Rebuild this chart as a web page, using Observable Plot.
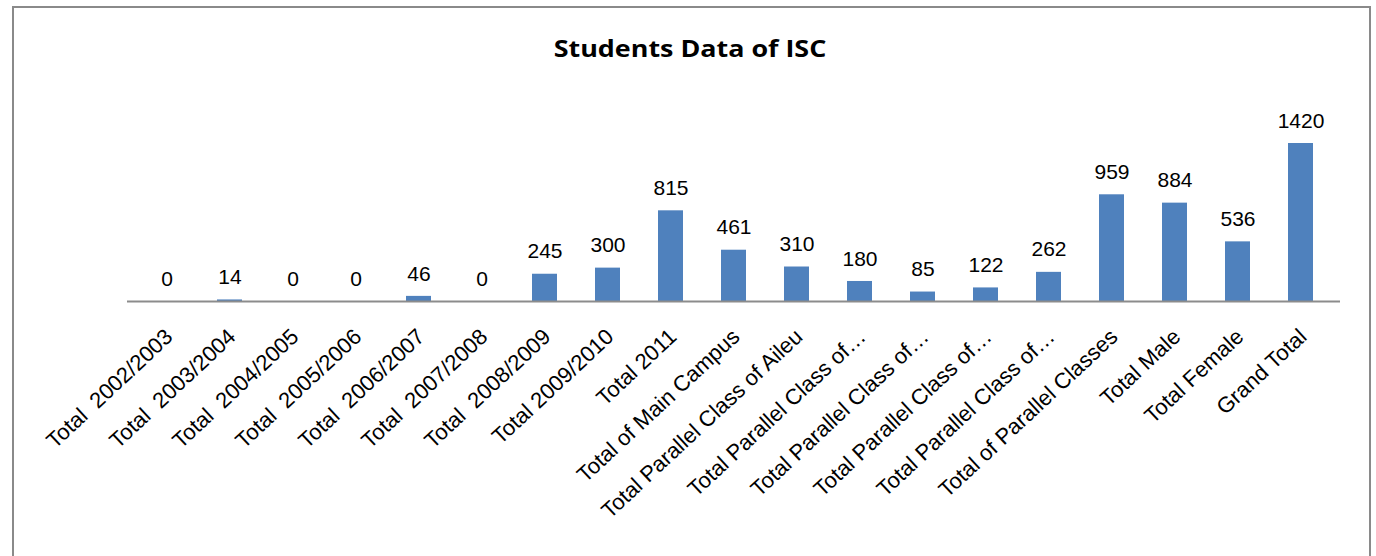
<!DOCTYPE html>
<html>
<head>
<meta charset="utf-8">
<script src="https://cdn.jsdelivr.net/npm/d3@7"></script>
<script src="https://cdn.jsdelivr.net/npm/@observablehq/plot@0.6"></script>
<style>
  html, body { margin: 0; padding: 0; background: #fff; }
  #wrap { position: relative; width: 1376px; height: 556px; overflow: hidden; background: #fff; }
  #frame { position: absolute; left: 12px; top: 6px; width: 1359px; height: 620px; border: 2px solid #8a8a8a; box-sizing: border-box; }
  #title { position: absolute; left: 0; width: 1380px; top: 33px; text-align: center; font-family: "Open Sans", sans-serif; font-weight: 700; font-size: 24px; line-height: 30px; color: #000; transform: scaleX(1.12); transform-origin: 690px 0; }
  #chart { position: absolute; left: 0; top: 0; }
  svg text { white-space: pre; }
</style>
</head>
<body>
<div id="wrap">
  <div id="frame"></div>
  <div id="title">Students Data of ISC</div>
  <div id="chart"></div>
</div>
<script>
const categories = [
  "Total  2002/2003", "Total  2003/2004", "Total  2004/2005", "Total  2005/2006",
  "Total  2006/2007", "Total  2007/2008", "Total  2008/2009", "Total 2009/2010",
  "Total 2011", "Total of Main Campus", "Total Parallel Class of Aileu",
  "Total Parallel Class of…", "Total Parallel Class of…", "Total Parallel Class of…",
  "Total Parallel Class of…", "Total of Parallel Classes", "Total Male", "Total Female",
  "Grand Total"
];
const values = [0, 14, 0, 0, 46, 0, 245, 300, 815, 461, 310, 180, 85, 122, 262, 959, 884, 536, 1420];

const data = categories.map((c, i) => ({i, label: c, value: values[i]}));

const chart = Plot.plot({
  width: 1376,
  height: 556,
  marginLeft: 127,
  marginRight: 36,
  marginTop: 143,
  marginBottom: 255,
  style: {fontFamily: "'Liberation Sans', Arial, sans-serif", background: "transparent", overflow: "visible"},
  x: {type: "band", domain: d3.range(categories.length), paddingInner: 0.6, paddingOuter: 0.3, axis: null},
  y: {domain: [0, 1420], axis: null},
  marks: [
    Plot.barY(data, {x: "i", y: "value", fill: "#4F81BD"}),
    Plot.ruleY([0], {stroke: "#8c8c8c", strokeWidth: 2}),
    Plot.text(data, {x: "i", y: "value", text: d => String(d.value), dy: -22.6, fontSize: 21, fill: "#000"}),
    Plot.text(data, {x: "i", frameAnchor: "bottom", text: "label", rotate: -43, textAnchor: "end", dx: 7, dy: 37, fontSize: 22, fill: "#000"})
  ]
});
document.getElementById("chart").appendChild(chart);
</script>
</body>
</html>
